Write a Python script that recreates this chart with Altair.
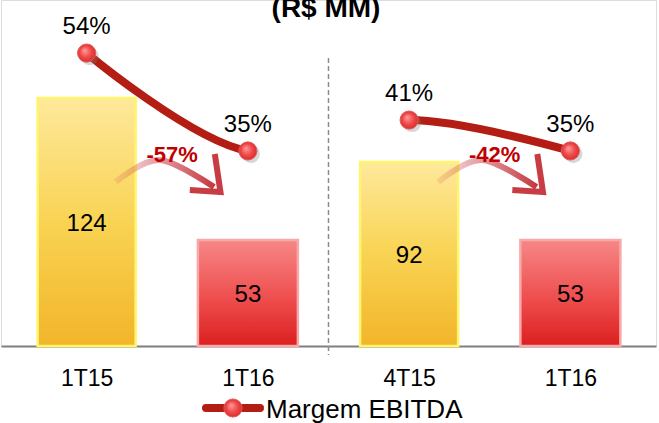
import altair as alt
import pandas as pd

# Dados do gráfico
periodos = ["1T15", "1T16", "4T15", "1T16"]
ebitda = [124, 53, 92, 53]
margem = [54, 35, 41, 35]
papel = ["anterior", "atual", "anterior", "atual"]
comparacoes = [(0, 1), (2, 3)]
serie_linha = "Margem EBITDA"
titulo = "(R$ MM)"

FONTE = "Liberation Sans"
VERMELHO_LINHA = "#B31D14"

df = pd.DataFrame({
    "pos": list(range(len(periodos))),
    "periodo": periodos,
    "ebitda": ebitda,
    "margem": margem,
    "papel": papel,
})
df["margem_txt"] = df["margem"].map(lambda m: f"{m}%")

# Setas curvas de variação entre os períodos comparados (geometria relativa a cada par)
haste, ponta, rotulos_var = [], [], []
for g, (a, b) in enumerate(comparacoes):
    d = b - a
    var = round((ebitda[b] - ebitda[a]) / ebitda[a] * 100)
    rotulos_var.append({"pos": a + 0.53 * d, "v": 95.5, "txt": f"{var}%"})
    for k, (dx, v) in enumerate([(0.18, 82), (0.45, 93), (0.79, 79.5)]):
        haste.append({"g": g, "k": k, "pos": a + dx * d, "v": v})
    for k, (dx, v) in enumerate([(0.795, 96), (0.83, 77), (0.64, 78)]):
        ponta.append({"g": g, "k": k, "pos": a + dx * d, "v": v})
haste = pd.DataFrame(haste)
ponta = pd.DataFrame(ponta)
rotulos_var = pd.DataFrame(rotulos_var)

# Faixa em branco que separa os dois blocos da linha de margem
corte = pd.DataFrame({
    "pos": [comparacoes[0][1]], "pos2": [comparacoes[1][0]],
    "m0": [min(margem) - 1.5], "m1": [max(margem[comparacoes[0][1]], margem[comparacoes[1][0]]) + 5],
})
divisor = pd.DataFrame({"pos": [(comparacoes[0][1] + comparacoes[1][0]) / 2]})

rotulo_expr = "[" + ",".join(f"'{p}'" for p in periodos) + "][datum.value]"
x_enc = alt.X(
    "pos:Q",
    scale=alt.Scale(domain=[-0.5, len(periodos) - 0.5], nice=False, zero=False),
    axis=alt.Axis(values=list(range(len(periodos))), labelExpr=rotulo_expr, title=None,
                  ticks=False, grid=False, domainColor="#7F7F7F", domainWidth=2,
                  labelFont=FONTE, labelFontSize=23, labelColor="#000000", labelPadding=21),
)


def y_bar(campo):
    return alt.Y(campo, type="quantitative",
                 scale=alt.Scale(domain=[0, 173], nice=False, zero=False), axis=None)


def y_mrg(campo):
    return alt.Y(campo, type="quantitative",
                 scale=alt.Scale(domain=[-2.86, 64.3], nice=False, zero=False), axis=None)


def grad_vertical(cores):
    return alt.LinearGradient(
        gradient="linear", x1=0, x2=0, y1=0, y2=1,
        stops=[alt.GradientStop(offset=o, color=c) for o, c in cores],
    )


amarelo = grad_vertical([(0, "#FEE99C"), (0.5, "#F9D353"), (1, "#F2B52A")])
vermelho = grad_vertical([(0, "#F78787"), (0.55, "#EE4E4E"), (1, "#DC1F1F")])

base = alt.Chart(df)

barras_ant = base.transform_filter(alt.datum.papel == "anterior").mark_bar(
    size=98, fill=amarelo, stroke="#FFF56A", strokeWidth=2.5
).encode(x=x_enc, y=y_bar("ebitda"))

barras_atu = base.transform_filter(alt.datum.papel == "atual").mark_bar(
    size=100, fill=vermelho, stroke="#F7A8A8", strokeWidth=2.5
).encode(x=x_enc, y=y_bar("ebitda"))

rotulo_barras = base.transform_calculate(meio="datum.ebitda / 2").mark_text(
    font=FONTE, fontSize=24, color="#000000", baseline="middle", dy=2
).encode(x=x_enc, y=y_bar("meio"), text="ebitda:Q")

seta_haste = alt.Chart(haste).mark_line(
    interpolate="cardinal", strokeWidth=6, strokeCap="butt",
    stroke=alt.LinearGradient(
        gradient="linear", x1=0, x2=1, y1=0, y2=0,
        stops=[alt.GradientStop(offset=0, color="rgba(195,45,60,0.12)"),
               alt.GradientStop(offset=1, color="rgba(190,35,42,0.9)")],
    ),
).encode(x=x_enc, y=y_bar("v"), detail="g:N", order="k:Q")

seta_ponta = alt.Chart(ponta).mark_line(
    strokeWidth=6, strokeCap="butt", strokeJoin="miter", color="#C1282F", opacity=0.9
).encode(x=x_enc, y=y_bar("v"), detail="g:N", order="k:Q")

seta_texto = alt.Chart(rotulos_var).mark_text(
    font=FONTE, fontSize=22, fontWeight="bold", color="#C00000", baseline="middle"
).encode(x=x_enc, y=y_bar("v"), text="txt:N")

linha = base.mark_line(
    interpolate="catmull-rom", strokeWidth=8, color=VERMELHO_LINHA, strokeCap="round"
).encode(x=x_enc, y=y_mrg("margem"), order="pos:Q")

faixa = alt.Chart(corte).mark_rect(color="white", xOffset=8, x2Offset=-8).encode(
    x=x_enc, x2="pos2:Q", y=y_mrg("m0"), y2="m1:Q",
)

linha_div = alt.Chart(divisor).mark_rule(
    color="#8C8C8C", strokeWidth=1.5, strokeDash=[5, 3]
).encode(x=x_enc, y=alt.value(58), y2=alt.value(355))

bolinha = alt.RadialGradient(
    gradient="radial", x1=0.38, y1=0.35, r1=0, x2=0.5, y2=0.5, r2=0.55,
    stops=[alt.GradientStop(offset=0, color="#FF9E9E"),
           alt.GradientStop(offset=0.55, color="#F14A4A"),
           alt.GradientStop(offset=1, color="#D22A2A")],
)

sombra = base.mark_point(
    filled=True, shape="circle", size=330, color="#7A7A7A", opacity=0.3, xOffset=3, yOffset=3
).encode(x=x_enc, y=y_mrg("margem"))

pontos = base.mark_point(
    filled=True, shape="circle", size=330, fill=bolinha, stroke="#E45A5A", strokeWidth=1, opacity=1
).encode(x=x_enc, y=y_mrg("margem"))

rotulo_pontos = base.mark_text(
    font=FONTE, fontSize=24, color="#000000", baseline="alphabetic", dy=-19
).encode(x=x_enc, y=y_mrg("margem"), text="margem_txt:N")

# Título (parcialmente cortado no topo) e legenda da linha
cab = alt.Chart(pd.DataFrame({"t": [titulo]})).mark_text(
    font=FONTE, fontSize=28, fontWeight="bold", color="#000000", baseline="alphabetic"
).encode(x=alt.value(325), y=alt.value(17), text="t:N")

leg_df = pd.DataFrame({"serie": [serie_linha]})
leg_linha = alt.Chart(leg_df).mark_rule(
    color=VERMELHO_LINHA, strokeWidth=8, strokeCap="round"
).encode(x=alt.value(205), x2=alt.value(259), y=alt.value(408))
leg_ponto = alt.Chart(leg_df).mark_point(
    filled=True, shape="circle", size=330, fill=bolinha, stroke="#E45A5A", strokeWidth=1, opacity=1
).encode(x=alt.value(232), y=alt.value(408))
leg_texto = alt.Chart(leg_df).mark_text(
    font=FONTE, fontSize=26, color="#000000", align="left", baseline="alphabetic"
).encode(x=alt.value(265), y=alt.value(418), text="serie:N")

chart = alt.layer(
    barras_ant, barras_atu, seta_haste, seta_ponta, seta_texto, rotulo_barras,
    linha, faixa, linha_div, sombra, pontos, rotulo_pontos,
    cab, leg_linha, leg_ponto, leg_texto,
).resolve_scale(y="independent").properties(
    width=655, height=346,
    autosize=alt.AutoSizeParams(type="none"),
    padding={"left": 1, "top": 0, "right": 3, "bottom": 77},
).configure_view(stroke=None).configure(background="white")

chart.save("out.html", embed_options={"renderer": "svg", "actions": False})
